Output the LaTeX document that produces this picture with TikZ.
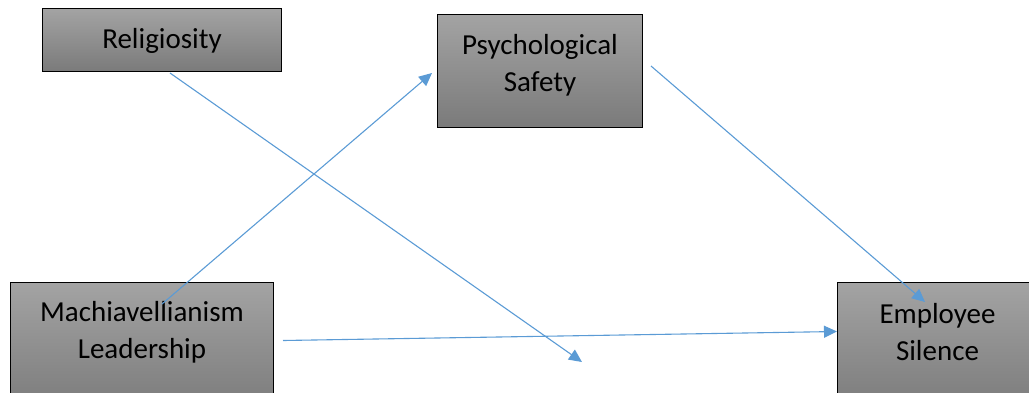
\documentclass[tikz,border=0pt]{standalone}
\usepackage{fontspec}
\setmainfont{Carlito}
\usetikzlibrary{arrows.meta}
\definecolor{arrowblue}{HTML}{5B9BD5}
\begin{document}
\begin{tikzpicture}[x=1pt, y=-1pt,
  box/.style = {shape=rectangle, draw=black, line width=1pt, top color=black!36, bottom color=black!52, inner sep=0pt, anchor=north west},
  lbl/.style = {align=center, font=\fontsize{29}{37}\selectfont},
  link/.style = {draw=arrowblue, line width=1.1pt, -{Triangle[length=13pt,width=12pt]}}]
\useasboundingbox (0,0) rectangle (1029,392);
\clip (0,0) rectangle (1029,392);

% Religiosity
\node[box, minimum width=239pt, minimum height=63pt] (rel) at (42,8) {};
\node[lbl] (reltxt) at ([yshift=-1pt]rel.center) {Religiosity};

% Psychological safety
\node[box, minimum width=205pt, minimum height=113pt] (psy) at (437,14) {};
\node[lbl] (psytxt) at ([yshift=6pt]psy.center) {Psychological\\Safety};

% Machiavellianism leadership
\node[box, minimum width=263pt, minimum height=130pt] (mach) at (10,282) {};
\node[lbl] (machtxt) at ([yshift=15pt]mach.center) {Machiavellianism\\Leadership};

% Employee silence
\node[box, minimum width=230pt, minimum height=130pt] (emp) at (837,282) {};
\node[lbl] (emptxt) at ([xshift=-15pt,yshift=15pt]emp.center) {Employee\\Silence};

% free end of the religiosity arrow
\coordinate (relend) at (582,362);

% Links
\draw[link] ([xshift=128pt,yshift=-1pt]rel.south west) -- (relend);
\draw[link] ([xshift=152pt,yshift=-22pt]mach.north west) -- ([xshift=-5pt,yshift=-2pt]psy.west);
\draw[link] ([xshift=9pt,yshift=7pt]mach.east) -- ([yshift=16pt]emp.west);
\draw[link] ([xshift=8pt,yshift=5pt]psy.east) -- ([xshift=88pt,yshift=-20pt]emp.north west);
\end{tikzpicture}
\end{document}
